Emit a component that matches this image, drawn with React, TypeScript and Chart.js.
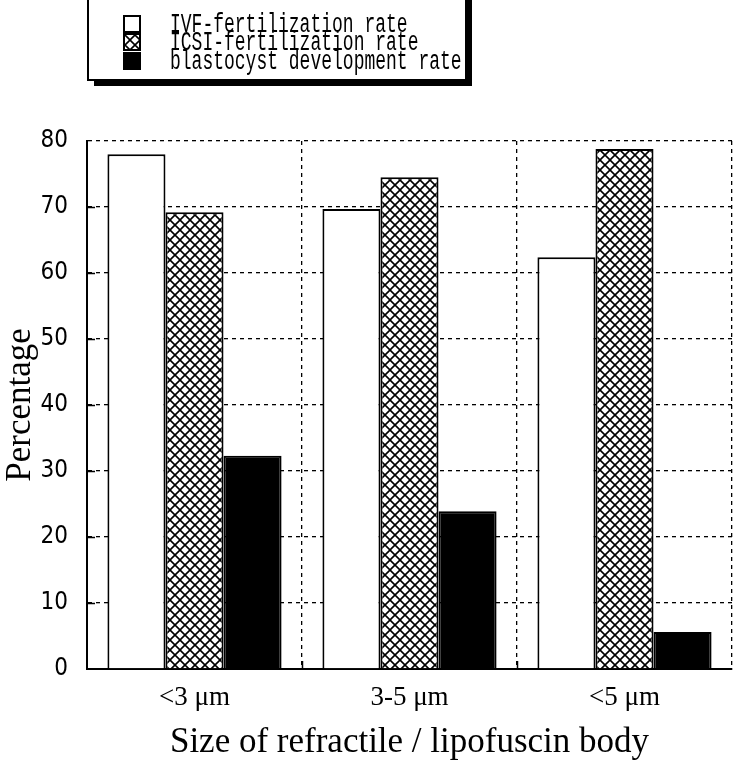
import React, { useEffect, useRef } from "react";
import { Chart, registerables } from "chart.js";
Chart.register(...registerables);

const categories = ["<3 \u03bcm", "3-5 \u03bcm", "<5 \u03bcm"];
const ivfRate = [78.0, 69.7, 62.4];
const icsiRate = [69.2, 74.5, 78.8];
const blastRate = [32.3, 23.9, 5.6];
const seriesNames = ["IVF-fertilization rate", "ICSI-fertilization rate", "blastocyst development rate"];
const yMin = 0;
const yMax = 80;
const yStep = 10;
const yTitle = "Percentage";
const xTitle = "Size of refractile / lipofuscin body";

function makeHatch(): CanvasPattern | string {
  const s = 10;
  const c = document.createElement("canvas");
  c.width = s;
  c.height = s;
  const g = c.getContext("2d");
  if (!g) return "#888";
  g.fillStyle = "#fff";
  g.fillRect(0, 0, s, s);
  g.strokeStyle = "#000";
  g.lineWidth = 1.6;
  g.beginPath();
  g.moveTo(-2, -2);
  g.lineTo(s + 2, s + 2);
  g.moveTo(s + 2, -2);
  g.lineTo(-2, s + 2);
  g.stroke();
  return g.createPattern(c, "repeat") || "#888";
}

export default function App() {
  const ref = useRef<HTMLCanvasElement | null>(null);
  useEffect(() => {
    document.body.style.margin = "0";
    const canvas = ref.current;
    if (!canvas) return;
    const hatch = makeHatch();
    const fills: any[] = ["#ffffff", hatch, "#000000"];

    const innerTicks = {
      id: "innerTicks",
      afterDatasetsDraw(chart: any) {
        const { ctx, chartArea, scales } = chart;
        ctx.save();
        ctx.strokeStyle = "#000";
        ctx.lineWidth = 1.5;
        ctx.setLineDash([]);
        for (let v = yMin + yStep; v < yMax; v += yStep) {
          const y = Math.round(scales.y.getPixelForValue(v)) + 0.5;
          ctx.beginPath();
          ctx.moveTo(chartArea.left, y);
          ctx.lineTo(chartArea.left + 8, y);
          ctx.stroke();
        }
        const n = categories.length;
        for (let i = 1; i < n; i++) {
          const x = (scales.x.getPixelForValue(i - 1) + scales.x.getPixelForValue(i)) / 2;
          ctx.beginPath();
          ctx.moveTo(Math.round(x) + 0.5, chartArea.bottom);
          ctx.lineTo(Math.round(x) + 0.5, chartArea.bottom - 8);
          ctx.stroke();
        }
        ctx.restore();
      },
    };

    const boxLegend = {
      id: "boxLegend",
      afterDraw(chart: any) {
        const ctx = chart.ctx;
        ctx.save();
        ctx.fillStyle = "#000";
        ctx.fillRect(94, 0, 378, 86);
        ctx.fillStyle = "#fff";
        ctx.fillRect(88, -2, 378, 82);
        ctx.strokeStyle = "#000";
        ctx.lineWidth = 2;
        ctx.strokeRect(88, -2, 378, 82);
        const rows = [24, 42, 61];
        for (let i = 0; i < 3; i++) {
          const cy = rows[i];
          ctx.fillStyle = fills[i];
          ctx.fillRect(124, cy - 8, 16, 16);
          ctx.strokeStyle = "#000";
          ctx.lineWidth = 2;
          ctx.strokeRect(124, cy - 8, 16, 16);
          ctx.save();
          ctx.translate(170, cy + 8);
          ctx.scale(1, 1.5);
          ctx.fillStyle = "#000";
          ctx.font = "18px 'Liberation Mono', 'DejaVu Sans Mono', monospace";
          ctx.textBaseline = "alphabetic";
          ctx.textAlign = "left";
          ctx.fillText(seriesNames[i], 0, 0);
          ctx.restore();
        }
        ctx.restore();
      },
    };

    const data = [ivfRate, icsiRate, blastRate];
    const chart = new Chart(canvas, {
      type: "bar",
      data: {
        labels: categories,
        datasets: data.map((d, i) => ({
          label: seriesNames[i],
          data: d,
          backgroundColor: fills[i],
          borderColor: "#000",
          borderWidth: { top: 2, left: 2, right: 2, bottom: 0 },
          borderSkipped: false,
          categoryPercentage: 0.81,
          barPercentage: 1,
        })),
      },
      options: {
        responsive: false,
        animation: false,
        layout: { padding: { top: 141, right: 2, left: 0, bottom: 0 } },
        plugins: {
          legend: { display: false },
          tooltip: { enabled: false },
          title: { display: false },
        },
        scales: {
          x: {
            offset: true,
            grid: { offset: true, color: "#000", lineWidth: 1.3, drawTicks: false, tickLength: 0 },
            border: { display: true, color: "#000", width: 2, dash: [4, 4] },
            ticks: {
              color: "#000",
              padding: 13,
              font: { family: "'Liberation Serif', 'Times New Roman', serif", size: 27 },
            },
            title: {
              display: true,
              text: xTitle,
              color: "#000",
              font: { family: "'Liberation Serif', 'Times New Roman', serif", size: 35 },
              padding: { top: 4, bottom: 3 },
            },
            afterFit(s: any) {
              s.height = 98;
            },
          },
          y: {
            min: yMin,
            max: yMax,
            grid: { color: "#000", lineWidth: 1.3, drawTicks: false, tickLength: 0 },
            border: { display: true, color: "#000", width: 2, dash: [4, 4] },
            ticks: {
              stepSize: yStep,
              color: "#000",
              padding: 19,
              font: { family: "'Liberation Sans Narrow', 'DejaVu Sans Condensed', sans-serif", size: 24 },
            },
            title: {
              display: true,
              text: yTitle,
              color: "#000",
              font: { family: "'Liberation Serif', 'Times New Roman', serif", size: 35 },
              padding: { top: 0, bottom: 0 },
            },
            afterFit(s: any) {
              s.width = 87;
            },
          },
        },
      },
      plugins: [innerTicks, boxLegend],
    });
    return () => chart.destroy();
  }, []);
  return <canvas ref={ref} width={734} height={767} style={{ display: "block" }} />;
}
